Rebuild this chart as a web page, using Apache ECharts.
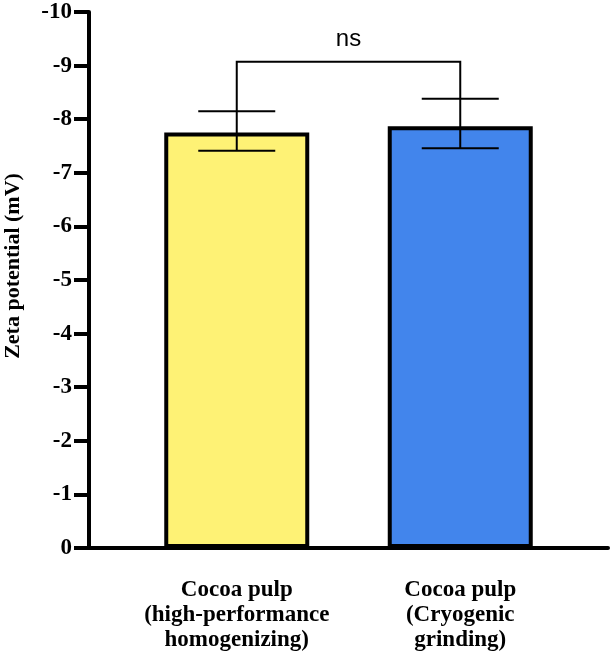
<!DOCTYPE html>
<html>
<head>
<meta charset="utf-8">
<script src="https://cdn.jsdelivr.net/npm/echarts@6/dist/echarts.min.js"></script>
<style>
html, body { margin: 0; padding: 0; background: #fff; }
#chart { width: 612px; height: 660px; }
</style>
</head>
<body>
<div id="chart"></div>
<script>
// data
var categories = ['Cocoa pulp\n(high-performance\nhomogenizing)', 'Cocoa pulp\n(Cryogenic\ngrinding)'];
var means = [-7.75, -7.87];
var errLow = [-7.41, -7.46];
var errHigh = [-8.15, -8.38];
var barColors = ['#fef275', '#4285ec'];
var bracketLevel = -9.07;
var sigLabel = 'ns';
var sigLabelLevel = -9.48;

var chart = echarts.init(document.getElementById('chart'));

var serif = 'Liberation Serif';

var errData = [];
for (var i = 0; i < categories.length; i++) {
    errData.push([i, errLow[i], errHigh[i]]);
}

var option = {
    animation: false,
    grid: [
        { left: 125, right: 40, top: 12, bottom: 112, outerBoundsMode: 'none' },
        { left: 89, right: 4, top: 12, bottom: 112, outerBoundsMode: 'none' }
    ],
    xAxis: [
        {
            type: 'category',
            gridIndex: 0,
            data: categories,
            axisLine: { show: false },
            axisTick: { alignWithLabel: true, length: 14, lineStyle: { color: '#000', width: 3 } },
            axisLabel: {
                margin: 30,
                fontFamily: serif,
                fontWeight: 'bold',
                fontSize: 23,
                lineHeight: 25,
                color: '#000',
                interval: 0
            }
        },
        {
            type: 'value',
            gridIndex: 1,
            min: 0,
            max: 1,
            axisLine: { show: true, onZero: false, lineStyle: { color: '#000', width: 4 } },
            axisTick: { show: false },
            axisLabel: { show: false },
            splitLine: { show: false }
        }
    ],
    yAxis: [
        {
            type: 'value',
            gridIndex: 0,
            min: -10,
            max: 0,
            interval: 1,
            inverse: true,
            offset: 36,
            name: 'Zeta potential (mV)',
            nameLocation: 'middle',
            nameRotate: 90,
            nameGap: 65,
            nameMoveOverlap: false,
            nameTextStyle: {
                fontFamily: serif,
                fontWeight: 'bold',
                fontSize: 22,
                color: '#000',
                padding: [0, 0, 0, 28]
            },
            axisLine: { show: true, lineStyle: { color: '#000', width: 4 } },
            axisTick: { show: true, length: 15, lineStyle: { color: '#000', width: 4 } },
            axisLabel: {
                margin: 17,
                fontFamily: serif,
                fontWeight: 'bold',
                fontSize: 23,
                color: '#000'
            },
            splitLine: { show: false }
        },
        {
            type: 'value',
            gridIndex: 1,
            show: false,
            min: -10,
            max: 0
        }
    ],
    series: [
        {
            type: 'bar',
            xAxisIndex: 0,
            yAxisIndex: 0,
            barWidth: 145,
            data: means.map(function (v, i) {
                return {
                    value: v,
                    itemStyle: { color: barColors[i], borderColor: '#000', borderWidth: 4 }
                };
            })
        },
        {
            type: 'custom',
            xAxisIndex: 0,
            yAxisIndex: 0,
            z: 5,
            data: errData,
            renderItem: function (params, api) {
                var x = api.value(0);
                var lo = api.coord([x, api.value(1)]);
                var hi = api.coord([x, api.value(2)]);
                var half = 38.5;
                var style = { stroke: '#000', lineWidth: 2 };
                return {
                    type: 'group',
                    children: [
                        { type: 'line', shape: { x1: lo[0], y1: lo[1], x2: hi[0], y2: hi[1] }, style: style },
                        { type: 'line', shape: { x1: lo[0] - half, y1: lo[1], x2: lo[0] + half, y2: lo[1] }, style: style },
                        { type: 'line', shape: { x1: hi[0] - half, y1: hi[1], x2: hi[0] + half, y2: hi[1] }, style: style }
                    ]
                };
            }
        },
        {
            type: 'custom',
            xAxisIndex: 0,
            yAxisIndex: 0,
            z: 5,
            data: [[0, 1]],
            renderItem: function (params, api) {
                var a = api.coord([0, errHigh[0]]);
                var aTop = api.coord([0, bracketLevel]);
                var b = api.coord([1, errHigh[1]]);
                var bTop = api.coord([1, bracketLevel]);
                var lbl = api.coord([0, sigLabelLevel]);
                return {
                    type: 'group',
                    children: [
                        {
                            type: 'polyline',
                            shape: { points: [a, aTop, bTop, b] },
                            style: { stroke: '#000', lineWidth: 2, fill: null }
                        },
                        {
                            type: 'text',
                            style: {
                                x: (aTop[0] + bTop[0]) / 2,
                                y: lbl[1],
                                text: sigLabel,
                                fontFamily: 'Liberation Sans',
                                fontSize: 24,
                                fill: '#000',
                                align: 'center',
                                verticalAlign: 'middle'
                            }
                        }
                    ]
                };
            }
        }
    ]
};

chart.setOption(option);
</script>
</body>
</html>
